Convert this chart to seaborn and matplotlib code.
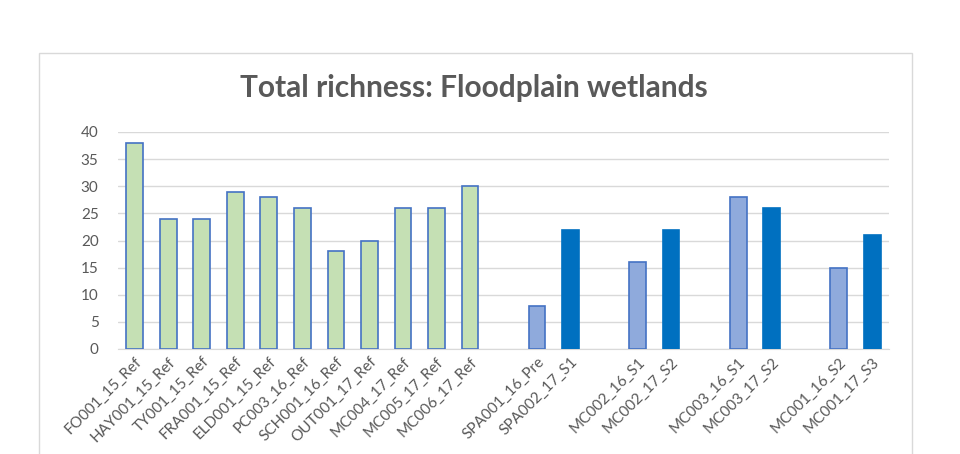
import numpy as np
import pandas as pd
import matplotlib
matplotlib.use("Agg")
import matplotlib.pyplot as plt
import seaborn as sns
from matplotlib.patches import Rectangle

# sites in chart order; "gapN" are the empty category slots between groups
sites = ["FO001_15_Ref", "HAY001_15_Ref", "TY001_15_Ref", "FRA001_15_Ref",
         "ELD001_15_Ref", "PC003_16_Ref", "SCH001_16_Ref", "OUT001_17_Ref",
         "MC004_17_Ref", "MC005_17_Ref", "MC006_17_Ref",
         "gap1", "SPA001_16_Pre", "SPA002_17_S1",
         "gap2", "MC002_16_S1", "MC002_17_S2",
         "gap3", "MC003_16_S1", "MC003_17_S2",
         "gap4", "MC001_16_S2", "MC001_17_S3"]
richness = [38, 24, 24, 29, 28, 26, 18, 20, 26, 26, 30,
            np.nan, 8, 22,
            np.nan, 16, 22,
            np.nan, 28, 26,
            np.nan, 15, 21]
kind = ["ref"] * 11 + ["gap", "before", "after"] * 4

kinds = ["ref", "before", "after"]
fills = {"ref": "#C5E0B4", "before": "#8FAADC", "after": "#0070C0"}
edges = {"ref": "#4472C4", "before": "#4472C4", "after": "#0070C0"}

df = pd.DataFrame({"site": sites, "richness": richness, "kind": kind})

sns.set_style("white")
plt.rcParams["font.family"] = ["Lato", "DejaVu Sans"]

fig = plt.figure(figsize=(9.6, 4.54), dpi=100)
fig.patches.append(Rectangle((39 / 960, -0.2), 873 / 960, 1.2 - 53 / 454,
                             transform=fig.transFigure, fill=False,
                             edgecolor="#D9D9D9", linewidth=1.0, zorder=0))
ax = fig.add_axes([118 / 960, 1 - 349 / 454, 771 / 960, (349 - 132) / 454])

sns.barplot(data=df, x="site", y="richness", hue="kind", order=sites,
            hue_order=kinds, palette=fills, dodge=False, legend=False,
            width=0.5, saturation=1, linewidth=1.2, ax=ax, zorder=3)
for cont, k in zip(ax.containers, kinds):
    for patch in cont:
        patch.set_edgecolor(edges[k])

ax.set_xlim(-0.5, len(sites) - 0.5)
ax.set_ylim(0, 40)
ax.set_yticks(range(0, 41, 5))
ax.yaxis.grid(True, color="#D9D9D9", linewidth=1.0, zorder=0)
ax.set_axisbelow(True)
for s in ["top", "right", "left"]:
    ax.spines[s].set_visible(False)
ax.spines["bottom"].set_color("#D9D9D9")
ax.tick_params(axis="both", length=0, colors="#595959", labelsize=11)
ax.tick_params(axis="y", pad=14)
ax.tick_params(axis="x", pad=4)
ax.set_xticks(range(len(sites)))
ax.set_xticklabels(["" if s.startswith("gap") else s for s in sites],
                   rotation=45, ha="right", rotation_mode="anchor")
ax.set_xlabel("")
ax.set_ylabel("")

fig.text(474 / 960, 1 - 88 / 454, "Total richness: Floodplain wetlands",
         ha="center", va="center", fontsize=21.5, fontweight="bold", color="#595959")

fig.savefig("out.png", dpi=100)
